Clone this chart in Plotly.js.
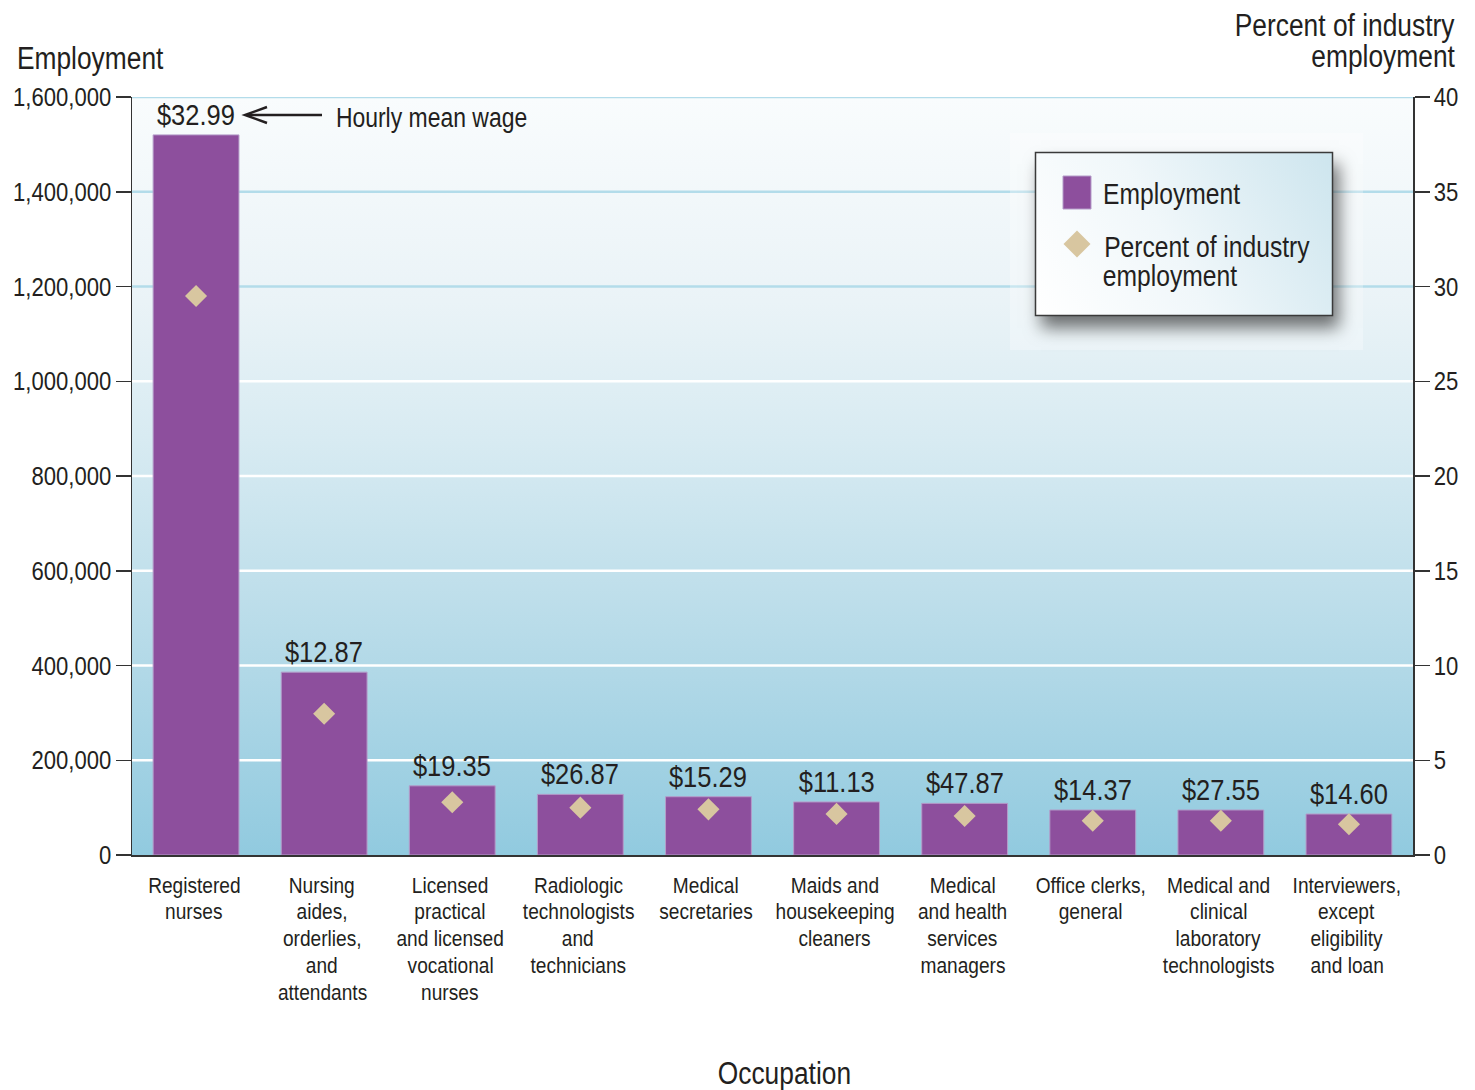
<!DOCTYPE html>
<html><head><meta charset="utf-8">
<script src="https://cdn.plot.ly/plotly-3.0.1.min.js"></script>
<style>html,body{margin:0;padding:0;background:#fff}#chart{width:1475px;height:1090px}</style>
</head><body><div id="chart"></div>
<script>
// ---------- data ----------
const occupations = [
  "Registered<br>nurses",
  "Nursing<br>aides,<br>orderlies,<br>and<br>attendants",
  "Licensed<br>practical<br>and licensed<br>vocational<br>nurses",
  "Radiologic<br>technologists<br>and<br>technicians",
  "Medical<br>secretaries",
  "Maids and<br>housekeeping<br>cleaners",
  "Medical<br>and health<br>services<br>managers",
  "Office clerks,<br>general",
  "Medical and<br>clinical<br>laboratory<br>technologists",
  "Interviewers,<br>except<br>eligibility<br>and loan"
];
const employment = [1520000, 386000, 146000, 128000, 123000, 112000, 109000, 95000, 95000, 86500];
const percentOfIndustry = [29.5, 7.45, 2.78, 2.5, 2.41, 2.17, 2.06, 1.81, 1.81, 1.62];
const hourlyMeanWage = [32.99, 12.87, 19.35, 26.87, 15.29, 11.13, 47.87, 14.37, 27.55, 14.60];
const employmentTicks = [0, 200000, 400000, 600000, 800000, 1000000, 1200000, 1400000, 1600000];
const percentTicks = [0, 5, 10, 15, 20, 25, 30, 35, 40];
const seriesNames = ["Employment", "Percent of industry<br>employment"];
const leftTitle = "Employment";
const rightTitle = "Percent of industry<br>employment";
const xTitle = "Occupation";
const wageNote = "Hourly mean wage";

// ---------- geometry / style ----------
const W = 1475, H = 1090;
const M = {l: 132, r: 62, t: 97, b: 235};
const PW = W - M.l - M.r, PH = H - M.t - M.b;
const px = x => (x - M.l) / PW;          // pixel x -> paper
const py = y => (M.t + PH - y) / PH;     // pixel y -> paper
const FONT = '"Liberation Sans", Arial, sans-serif';
const SQUEEZE = 0.85;                    // condensed look
const TXT = '#231f20';
const PURPLE = '#8d4f9d';
const BEIGE = '#d8c6a0';

function bgImage(w, h) {
  const c = document.createElement('canvas'); c.width = w; c.height = h;
  const g = c.getContext('2d');
  const gr = g.createLinearGradient(0, 0, 0, h);
  gr.addColorStop(0, '#f9fcfd');
  gr.addColorStop(0.27, '#eaf3f7');
  gr.addColorStop(0.45, '#d8ebf2');
  gr.addColorStop(0.73, '#b5dae8');
  gr.addColorStop(1, '#91cadf');
  g.fillStyle = gr; g.fillRect(0, 0, w, h);
  return c.toDataURL();
}
// legend panel image (origin 1005,128)
const LG = {x: 1005, y: 128, w: 372, h: 245};
function legendImage() {
  const c = document.createElement('canvas'); c.width = LG.w; c.height = LG.h;
  const g = c.getContext('2d');
  g.fillStyle = 'rgba(255,255,255,0.3)';
  g.fillRect(5, 5, 353, 217);
  const bx = 1035 - LG.x, by = 152 - LG.y, bw = 298, bh = 164;
  g.save();
  g.shadowColor = 'rgba(0,0,0,0.55)'; g.shadowBlur = 16; g.shadowOffsetX = 6; g.shadowOffsetY = 12;
  g.fillStyle = '#ffffff'; g.fillRect(bx, by, bw, bh);
  g.restore();
  const gr = g.createLinearGradient(bx, by + bh, bx + bw, by);
  gr.addColorStop(0, '#ffffff'); gr.addColorStop(0.45, '#f0f7fa'); gr.addColorStop(1, '#cde5ee');
  g.fillStyle = gr; g.fillRect(bx, by, bw, bh);
  g.strokeStyle = '#3a3a3a'; g.lineWidth = 1.5;
  g.strokeRect(bx + 0.5, by + 0.5, bw - 1, bh - 1);
  return c.toDataURL();
}

const traces = [
  {type: 'bar', x: occupations, y: employment, name: seriesNames[0],
   marker: {color: PURPLE, line: {color: '#b49cc9', width: 1}}, hoverinfo: 'skip'},
  {type: 'scatter', mode: 'markers', x: occupations, y: percentOfIndustry, yaxis: 'y2', name: seriesNames[1],
   marker: {symbol: 'diamond', size: 17, color: BEIGE, line: {width: 0}}, hoverinfo: 'skip'}
];

const shapes = [];
employmentTicks.forEach(t => {
  if (t === 0) return;
  shapes.push({type: 'line', xref: 'paper', yref: 'y', x0: 0, x1: 1, y0: t, y1: t, layer: 'below',
    line: {color: t >= 1200000 ? '#b3dcea' : '#ffffff', width: 2.5}});
});
// arrow for "Hourly mean wage"
shapes.push({type: 'line', xref: 'paper', yref: 'paper', x0: px(247), x1: px(322), y0: py(115), y1: py(115),
  line: {color: TXT, width: 2.5}, layer: 'above'});
shapes.push({type: 'path', xref: 'paper', yref: 'paper', layer: 'above', fillcolor: 'rgba(0,0,0,0)',
  path: `M ${px(267)},${py(107)} L ${px(245)},${py(115)} L ${px(267)},${py(123)}`,
  line: {color: TXT, width: 2.5}});
// legend symbols
shapes.push({type: 'rect', xref: 'paper', yref: 'paper', layer: 'above',
  x0: px(1063), x1: px(1091), y0: py(176), y1: py(209), fillcolor: PURPLE, line: {color: '#b49cc9', width: 1}});
shapes.push({type: 'path', xref: 'paper', yref: 'paper', layer: 'above', fillcolor: BEIGE, line: {width: 0},
  path: `M ${px(1077)},${py(230.5)} L ${px(1090.5)},${py(244)} L ${px(1077)},${py(257.5)} L ${px(1063.5)},${py(244)} Z`});

const annotations = [];
const txt = (text, xc, yc, size) => ({xref: 'paper', yref: 'paper', x: px(xc), y: py(yc), xanchor: 'center',
  yanchor: 'middle', text: text, showarrow: false, borderpad: 0, font: {size: size, color: TXT, family: FONT}});
// wage labels
occupations.forEach((c, i) => {
  annotations.push({xref: 'x', yref: 'y', x: c, y: employment[i], yanchor: 'bottom', yshift: 2,
    text: '$' + hourlyMeanWage[i].toFixed(2), showarrow: false, font: {size: 30, color: TXT, family: FONT}});
});
// category labels (one annotation per line)
occupations.forEach((c, i) => {
  c.split('<br>').forEach((line, k) => {
    annotations.push({xref: 'x', yref: 'paper', x: c, y: 0, yanchor: 'middle', xshift: -2, borderpad: 0,
      yshift: -(30 + k * 26.8), text: line, showarrow: false, font: {size: 22.5, color: TXT, family: FONT}});
  });
});
annotations.push(txt(leftTitle, 90.5, 58, 31));
rightTitle.split('<br>').forEach((line, k) => {
  annotations.push(Object.assign(txt(line, 1456, 25 + k * 32, 31), {xanchor: 'right', align: 'right'}));
});
annotations.push(txt(xTitle, 784, 1073, 31));
annotations.push(txt(wageNote, 431.5, 118, 27));
// legend texts
annotations.push(txt(seriesNames[0], 1171, 194, 29));
const lgLines = seriesNames[1].split('<br>');
annotations.push(txt(lgLines[0], 1207, 247, 29));
annotations.push(txt(lgLines[1], 1170, 276, 29));

const layout = {
  width: W, height: H,
  margin: M,
  paper_bgcolor: '#ffffff',
  plot_bgcolor: 'rgba(0,0,0,0)',
  showlegend: false,
  bargap: 0.33,
  font: {family: FONT, color: TXT},
  xaxis: {type: 'category', range: [-0.5, 9.5], showticklabels: false, ticks: '', showgrid: false,
    zeroline: false, showline: true, linecolor: '#333333', linewidth: 1.5, fixedrange: true},
  yaxis: {range: [0, 1600000], tickvals: employmentTicks, tickformat: ',d', showgrid: false, zeroline: false,
    showline: true, linecolor: '#333333', linewidth: 1.5, ticks: 'outside', ticklen: 15, tickwidth: 1.5,
    ticklabelstandoff: -1,
    tickcolor: '#333333', tickfont: {size: 26, color: TXT, family: FONT}, fixedrange: true},
  yaxis2: {overlaying: 'y', side: 'right', range: [0, 40], tickvals: percentTicks, showgrid: false, zeroline: false,
    showline: true, linecolor: '#333333', linewidth: 1.5, ticks: 'outside', ticklen: 15, tickwidth: 1.5,
    ticklabelstandoff: -1,
    tickcolor: '#333333', tickfont: {size: 26, color: TXT, family: FONT}, fixedrange: true},
  images: [
    {source: bgImage(PW, PH), xref: 'paper', yref: 'paper', x: 0, y: 1, sizex: 1, sizey: 1,
     xanchor: 'left', yanchor: 'top', sizing: 'stretch', layer: 'below'},
    {source: legendImage(), xref: 'paper', yref: 'paper', x: px(LG.x), y: py(LG.y), sizex: LG.w / PW, sizey: LG.h / PH,
     xanchor: 'left', yanchor: 'top', sizing: 'stretch', layer: 'above'}
  ],
  shapes: shapes,
  annotations: annotations
};

Plotly.newPlot('chart', traces, layout, {displayModeBar: false, staticPlot: true}).then(gd => {
  // narrow the glyphs to imitate the condensed face of the original
  gd.querySelectorAll('svg text').forEach(t => {
    const len = t.getComputedTextLength();
    if (len > 0) {
      t.setAttribute('textLength', (len * SQUEEZE).toFixed(2));
      t.setAttribute('lengthAdjust', 'spacingAndGlyphs');
    }
  });
});
</script>
</body></html>
